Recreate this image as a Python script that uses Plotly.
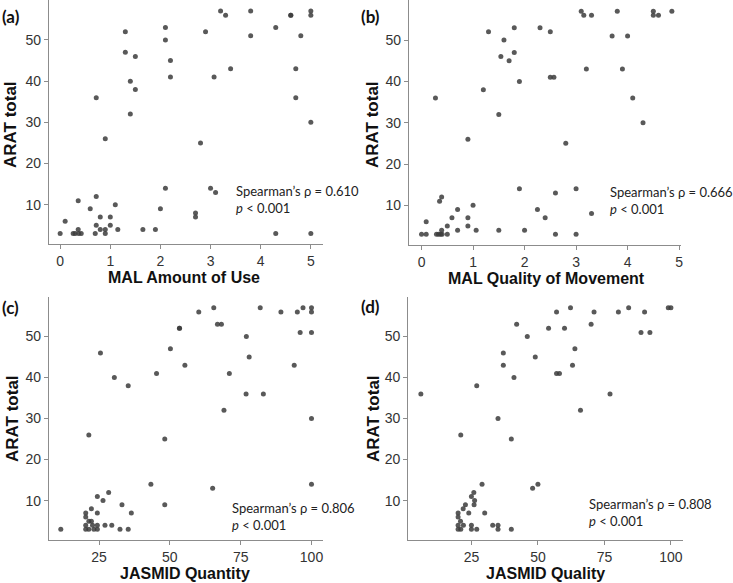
import plotly.graph_objects as go

# ---- data ----
a_x = [3.2, 3.3, 3.8, 4.6, 4.6, 5, 5,
       1.3, 2.1, 2.9, 4.3, 2.1, 3.8, 4.8,
       1.3, 1.5, 2.2, 3.4, 4.7,
       1.4, 2.2, 3.07, 1.5,
       0.72, 4.7, 1.4, 5, 0.9, 2.8,
       2.1, 3.0, 3.1, 0.72, 0.36, 1.1,
       0.6, 2.0, 2.7, 2.7, 0.8, 1.0,
       0.1, 0.72, 1.0,
       0.36, 0.8, 0.9, 1.15, 1.65, 1.9,
       0, 0.26, 0.3, 0.37, 0.42, 0.7, 0.9, 4.3, 5]
a_y = [57, 56, 57, 56, 56, 57, 56,
       52, 53, 52, 53, 50, 51, 51,
       47, 46, 45, 43, 43,
       40, 41, 41, 38,
       36, 36, 32, 30, 26, 25,
       14, 14, 13, 12, 11, 10,
       9, 9, 8, 7, 7, 7,
       6, 5, 5,
       4, 4, 4, 4, 4, 4,
       3, 3, 3, 3, 3, 3, 3, 3, 3]

b_x = [3.1, 3.15, 3.3, 3.8, 4.5, 4.5, 4.6, 4.86,
       1.3, 1.8, 2.3, 2.5, 3.7, 4.0,
       1.6, 1.8, 1.54, 1.7, 3.2, 3.9,
       2.5, 2.57, 1.9, 1.2,
       0.27, 4.1, 1.5, 4.3, 0.9, 2.8,
       1.9, 3.0, 2.6, 0.39, 0.35, 1.0,
       0.7, 2.25, 3.3, 0.59, 0.9, 2.4,
       0.09, 0.5, 0.9,
       0.39, 0.7, 1.06, 1.5, 2.0,
       0, 0.09, 0.29, 0.33, 0.37, 0.4, 0.5, 2.6, 3.0]
b_y = [57, 56, 56, 57, 57, 56, 56, 57,
       52, 53, 53, 52, 51, 51,
       50, 47, 46, 45, 43, 43,
       41, 41, 40, 38,
       36, 36, 32, 30, 26, 25,
       14, 14, 13, 12, 11, 10,
       9, 9, 8, 7, 7, 7,
       6, 5, 5,
       4, 4, 4, 4, 4,
       3, 3, 3, 3, 3, 3, 3, 3, 3]

c_x = [65.5, 60.2, 81.9, 89.2, 95, 97, 100, 100,
       53.4, 53.4, 66.8, 68.2, 96, 100,
       77, 50.2, 78, 55.3, 93.9,
       25.5, 45.3, 71, 30.4, 35.3,
       76.9, 83, 69.1, 100, 21.4, 48.2,
       43.3, 100, 65.1, 28.4, 24.4, 26.4,
       33.1, 48.2, 22.3, 20.3, 24.4, 36.4, 20.3,
       21.4, 22.3,
       20.3, 22.7, 24.4, 27.1, 29.5,
       11.5, 20.3, 21.4, 23.2, 24.4, 32.4, 35.3]
c_y = [57, 56, 57, 56, 56, 57, 57, 56,
       52, 52, 53, 53, 51, 51,
       50, 47, 45, 43, 43,
       46, 41, 41, 40, 38,
       36, 36, 32, 30, 26, 25,
       14, 14, 13, 12, 11, 10,
       9, 9, 8, 7, 7, 7, 6,
       5, 5,
       4, 4, 4, 4, 4,
       3, 3, 3, 3, 3, 3, 3]

d_x = [62.25, 57, 71.1, 80.25, 84.1, 90.1, 99, 100,
       42, 54, 60, 70, 88.75, 92.1,
       46, 63.9, 49, 37, 37, 63,
       41, 57, 58.1, 27,
       6, 77.1, 66, 35, 21, 40,
       29, 50, 48, 25.9, 25, 26.2,
       22.75, 26, 21.9, 20, 24, 30, 20,
       20.9,
       20, 22, 25, 33, 35,
       20, 21, 25, 27, 35, 40]
d_y = [57, 56, 56, 56, 57, 56, 57, 57,
       53, 52, 52, 53, 51, 51,
       50, 47, 45, 46, 43, 43,
       40, 41, 41, 38,
       36, 36, 32, 30, 26, 25,
       14, 14, 13, 12, 11, 10,
       9, 9, 8, 7, 7, 7, 6,
       5,
       4, 4, 4, 4, 4,
       3, 3, 3, 3, 3, 3]

panel_labels = ["(a)", "(b)", "(c)", "(d)"]
x_titles = ["MAL Amount of Use", "MAL Quality of Movement", "JASMID Quantity", "JASMID Quality"]
y_title = "ARAT total"
rho_values = ["0.610", "0.666", "0.806", "0.808"]
p_text = "<i>p</i> < 0.001"
mal_ticks = [0, 1, 2, 3, 4, 5]
jasmid_ticks = [25, 50, 75, 100]
arat_ticks = [10, 20, 30, 40, 50]

W, H = 733, 583

def px(x):
    return x / W

def py(y):
    return 1 - y / H

series = [(a_x, a_y), (b_x, b_y), (c_x, c_y), (d_x, d_y)]
# (left, right, top, bottom) pixel box for each panel
boxes = [(49, 324, 0, 244.3), (410, 683, 0, 245), (49, 324, 296.7, 540), (409.3, 685.3, 296.7, 540)]
xranges = [[-0.225, 5.245], [-0.246, 5.04], [7.29, 104.1], [1.23, 104.7]]
yrange = [0.4, 59.7]
xticks = [mal_ticks, mal_ticks, jasmid_ticks, jasmid_ticks]

fig = go.Figure()
layout = dict(width=W, height=H, margin=dict(l=0, r=0, t=0, b=0),
              paper_bgcolor="white", plot_bgcolor="white", showlegend=False)
annotations = []
axis_color = "#8c8c8c"
tick_font = dict(family="Liberation Sans, Arial", size=14, color="#333333")

for i, ((xs, ys), box) in enumerate(zip(series, boxes)):
    n = "" if i == 0 else str(i + 1)
    l, r, t, b = box
    fig.add_trace(go.Scatter(x=xs, y=ys, mode="markers", xaxis="x" + n, yaxis="y" + n,
                             marker=dict(size=5, color="rgba(60,60,60,0.85)", line=dict(width=0)),
                             hoverinfo="x+y"))
    layout["xaxis" + n] = dict(domain=[px(l), px(r)], range=xranges[i], anchor="y" + n,
                               showgrid=False, zeroline=False, showline=True, linecolor=axis_color,
                               linewidth=1, ticks="outside", ticklen=4, tickcolor=axis_color,
                               tickvals=xticks[i], tickfont=tick_font)
    layout["yaxis" + n] = dict(domain=[py(b), py(t)], range=yrange, anchor="x" + n,
                               showgrid=False, zeroline=False, showline=True, linecolor=axis_color,
                               linewidth=1, ticks="outside", ticklen=4, tickcolor=axis_color,
                               tickvals=arat_ticks, tickfont=tick_font)

# titles and labels (pixel positions from reference)
xt_pos = [(185, 277), (548, 278), (186, 573), (547, 573)]
yt_pos = [(11, 124), (374, 124), (12, 418), (374, 418)]
pl_pos = [(0, 16), (360, 16), (0, 307), (360, 306)]
st_pos = [(235, 199), (610, 200), (231, 516), (589, 512)]

for i in range(4):
    annotations.append(dict(text="<b>" + x_titles[i] + "</b>", x=px(xt_pos[i][0]), y=py(xt_pos[i][1]),
                            xref="paper", yref="paper", showarrow=False, xanchor="center", yanchor="middle",
                            font=dict(family="Liberation Sans, Arial", size=16, color="#111111")))
    annotations.append(dict(text="<b>" + y_title + "</b>", x=px(yt_pos[i][0]), y=py(yt_pos[i][1]),
                            xref="paper", yref="paper", showarrow=False, textangle=-90,
                            xanchor="center", yanchor="middle",
                            font=dict(family="Liberation Sans, Arial", size=17, color="#111111")))
    annotations.append(dict(text="<b>" + panel_labels[i] + "</b>", x=px(pl_pos[i][0]), y=py(pl_pos[i][1]),
                            xref="paper", yref="paper", showarrow=False, xanchor="left", yanchor="middle",
                            font=dict(family="Lato, Open Sans", size=17, color="#111111")))
    annotations.append(dict(text="Spearman’s ρ = " + rho_values[i] + "<br>" + p_text,
                            x=px(st_pos[i][0]), y=py(st_pos[i][1]), xref="paper", yref="paper",
                            showarrow=False, xanchor="left", yanchor="middle", align="left",
                            font=dict(family="Lato, Open Sans", size=13, color="#222222")))

layout["annotations"] = annotations
fig.update_layout(**layout)
fig.write_html("out.html")
